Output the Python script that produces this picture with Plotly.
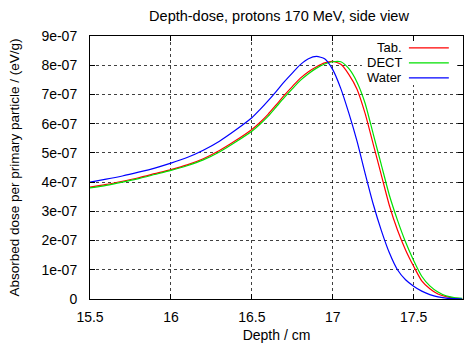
import plotly.graph_objects as go

depth = [15.5, 15.6, 15.7, 15.8, 15.9, 16.0, 16.1, 16.2, 16.3, 16.4, 16.5, 16.55, 16.6, 16.65,
         16.7, 16.75, 16.8, 16.85, 16.9, 16.95, 17.0, 17.05, 17.1, 17.15, 17.2, 17.25, 17.3,
         17.35, 17.4, 17.45, 17.5, 17.55, 17.6, 17.65, 17.7, 17.75, 17.8]

# values in units of 1e-07 eV/g
tab = [3.83, 3.92, 4.03, 4.15, 4.29, 4.43, 4.59, 4.80, 5.08, 5.42, 5.80, 6.04, 6.32, 6.64,
       6.97, 7.27, 7.56, 7.78, 7.95, 8.08, 8.13, 8.03, 7.68, 7.18, 6.35, 5.30, 4.25,
       3.20, 2.36, 1.68, 1.12, 0.62, 0.35, 0.17, 0.08, 0.03, 0.01]
dect = [3.80, 3.89, 4.00, 4.12, 4.26, 4.40, 4.56, 4.76, 5.03, 5.37, 5.74, 5.98, 6.25, 6.57,
        6.89, 7.19, 7.48, 7.71, 7.90, 8.04, 8.12, 8.12, 7.88, 7.42, 6.70, 5.65, 4.60,
        3.55, 2.70, 1.95, 1.32, 0.78, 0.45, 0.24, 0.11, 0.05, 0.02]
water = [4.00, 4.10, 4.21, 4.34, 4.48, 4.65, 4.84, 5.09, 5.40, 5.78, 6.20, 6.48, 6.78, 7.10,
         7.43, 7.73, 8.02, 8.22, 8.30, 8.22, 7.85, 7.20, 6.35, 5.40, 4.30, 3.25, 2.35,
         1.58, 1.00, 0.66, 0.44, 0.27, 0.15, 0.07, 0.03, 0.01, 0.00]

series_names = ["Tab.", "DECT", "Water"]
series_colors = ["#ff0000", "#00e000", "#0000ff"]
series_values = [tab, dect, water]

y_tick_vals = [0, 1, 2, 3, 4, 5, 6, 7, 8, 9]
y_tick_text = ["0", "1e-07", "2e-07", "3e-07", "4e-07", "5e-07", "6e-07", "7e-07", "8e-07", "9e-07"]
x_tick_vals = [15.5, 16, 16.5, 17, 17.5]
x_tick_text = ["15.5", "16", "16.5", "17", "17.5"]

FONT = "Liberation Sans, Arial, sans-serif"

fig = go.Figure()
for name, color, vals in zip(series_names, series_colors, series_values):
    fig.add_trace(go.Scatter(
        x=depth, y=[v * 1e-7 for v in vals], mode="lines", name=name,
        line=dict(color=color, width=1.2, shape="spline", smoothing=0.6),
        showlegend=False,
    ))

# opaque key background (gnuplot style), hides gridlines behind the legend
fig.add_shape(type="rect", xref="paper", yref="paper", x0=0.729, x1=0.984, y0=0.814, y1=0.977,
              fillcolor="white", line=dict(width=0), layer="above")

# gnuplot-style legend: right-aligned text with sample line on its right
for i, (name, color) in enumerate(zip(series_names, series_colors)):
    yp = 0.955 - i * 0.057
    fig.add_annotation(x=0.84, y=yp, xref="paper", yref="paper", text=name,
                       showarrow=False, xanchor="right", yanchor="middle", borderpad=0,
                       font=dict(family=FONT, size=13, color="black"))
    fig.add_shape(type="line", xref="paper", yref="paper", layer="above",
                  x0=0.855, x1=0.962, y0=yp, y1=yp, line=dict(color=color, width=1.2))

axis_common = dict(
    showline=True, linecolor="black", linewidth=1, mirror="ticks",
    ticks="inside", ticklen=5, tickcolor="black",
    showgrid=True, gridcolor="rgba(0,0,0,0.75)", griddash="dot", gridwidth=1,
    zeroline=False, tickfont=dict(family=FONT, size=14, color="black"),
)

fig.update_xaxes(range=[15.5, 17.805], tickvals=x_tick_vals,
                 ticktext=x_tick_text, ticklabelstandoff=5,
                 title=dict(text="Depth / cm", font=dict(family=FONT, size=14, color="black"), standoff=6),
                 **axis_common)
fig.update_yaxes(range=[0, 9e-7], tickvals=[v * 1e-7 for v in y_tick_vals],
                 ticktext=y_tick_text, ticklabelstandoff=9,
                 title=dict(text="Absorbed dose per primary particle / (eV/g)",
                            font=dict(family=FONT, size=13.5, color="black"), standoff=18),
                 **axis_common)

fig.update_layout(
    width=465, height=347,
    margin=dict(l=90, r=2, t=36, b=48),
    paper_bgcolor="white", plot_bgcolor="white",
    title=dict(text="Depth-dose, protons 170 MeV, side view", x=0.6, xanchor="center",
               y=0.955, yanchor="middle", font=dict(family=FONT, size=14.5, color="black")),
)

fig.write_html("out.html")
